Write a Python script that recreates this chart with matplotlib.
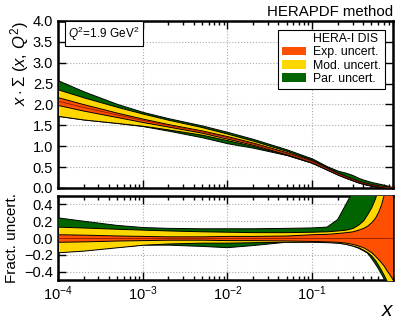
import numpy as np
import matplotlib
matplotlib.use("Agg")
from matplotlib import pyplot as plt
from matplotlib.patches import Patch

plt.rcParams['font.family'] = ['Liberation Sans', 'DejaVu Sans']
plt.rcParams['mathtext.fontset'] = 'custom'
plt.rcParams['mathtext.rm'] = 'Liberation Sans'
plt.rcParams['mathtext.it'] = 'Liberation Sans:italic'

# x nodes and central x*Sigma(x, Q2)
xs = [1e-4, 2e-4, 5e-4, 1e-3, 2e-3, 5e-3, 1e-2, 2e-2, 5e-2, 0.1, 0.15, 0.2,
      0.25, 0.3, 0.35, 0.4, 0.45, 0.5, 0.55, 0.6, 0.65, 0.7, 0.75, 0.8, 0.85, 0.9]
central = [2.08, 1.93, 1.75, 1.62, 1.50, 1.35, 1.21, 1.06, 0.83, 0.63, 0.46, 0.34,
           0.26, 0.20, 0.15, 0.115, 0.09, 0.068, 0.052, 0.04, 0.03, 0.022, 0.016, 0.01, 0.006, 0.003]

# fractional uncertainties (upper / lower) per band
exp_up = [0.045, 0.04, 0.03, 0.025, 0.02, 0.02, 0.025, 0.025, 0.03, 0.045, 0.05, 0.06,
          0.07, 0.08, 0.10, 0.12, 0.15, 0.19, 0.24, 0.31, 0.40, 0.52, 0.70, 0.90, 1.10, 1.30]
exp_lo = [-0.045, -0.04, -0.03, -0.025, -0.02, -0.02, -0.025, -0.025, -0.03, -0.035, -0.04, -0.045,
          -0.055, -0.07, -0.09, -0.11, -0.14, -0.17, -0.21, -0.25, -0.29, -0.33, -0.38, -0.42, -0.46, -0.50]
mod_up = [0.135, 0.125, 0.11, 0.10, 0.09, 0.08, 0.075, 0.07, 0.07, 0.075, 0.08, 0.09,
          0.10, 0.12, 0.16, 0.21, 0.29, 0.37, 0.47, 0.58, 0.70, 0.85, 1.0, 1.2, 1.4, 1.6]
mod_lo = [-0.17, -0.15, -0.11, -0.08, -0.065, -0.055, -0.055, -0.05, -0.045, -0.045, -0.05, -0.055,
          -0.07, -0.09, -0.11, -0.14, -0.17, -0.21, -0.26, -0.32, -0.38, -0.44, -0.50, -0.55, -0.6, -0.65]
par_up = [0.24, 0.20, 0.15, 0.125, 0.115, 0.11, 0.11, 0.11, 0.115, 0.12, 0.13, 0.22,
          0.40, 0.55, 0.62, 0.75, 0.9, 1.1, 1.4, 1.7, 2.1, 2.5, 3.0, 3.5, 4.2, 5.0]
par_lo = [-0.17, -0.15, -0.11, -0.085, -0.085, -0.10, -0.115, -0.09, -0.05, -0.045, -0.05, -0.06,
          -0.075, -0.095, -0.12, -0.15, -0.18, -0.24, -0.30, -0.36, -0.42, -0.48, -0.55, -0.6, -0.65, -0.7]

c_exp = '#ff4f00'
c_mod = '#ffd700'
c_par = '#006400'

x = np.array(xs)
cen = np.array(central)

fig = plt.figure(figsize=(3.99, 3.28), dpi=100)
ax1 = fig.add_axes([0.1454, 0.427, 0.8396, 0.509])
ax2 = fig.add_axes([0.1454, 0.1463, 0.8396, 0.2561])

bands = [(par_lo, par_up, c_par), (mod_lo, mod_up, c_mod), (exp_lo, exp_up, c_exp)]
for lo, up, col in bands:
    lo = np.array(lo)
    up = np.array(up)
    ax1.fill_between(x, cen * (1 + lo), cen * (1 + up), facecolor=col,
                     edgecolor='black', linewidth=0.7, zorder=3)
    ax2.fill_between(x, lo, up, facecolor=col, edgecolor='black', linewidth=0.7, zorder=3)
ax1.plot(x, cen, color='#8b1a00', lw=0.6, zorder=4)
ax2.plot(x, np.zeros_like(x), color='#8b1a00', lw=0.6, zorder=4)

for ax in (ax1, ax2):
    ax.set_xscale('log')
    ax.set_xlim(1e-4, 0.9)
    ax.grid(True, which='major', color='#aaaaaa', linestyle=':', linewidth=0.8, zorder=0)
    for s in ax.spines.values():
        s.set_linewidth(1.8)
    ax.tick_params(which='both', direction='in', top=True, right=True, labelsize=10.5, width=1)
    ax.tick_params(which='major', length=6)
    ax.tick_params(which='minor', length=3)

ax1.set_ylim(0, 4)
ax1.set_yticks(np.arange(0, 4.01, 0.5))
ax1.set_yticklabels(['%.1f' % v for v in np.arange(0, 4.01, 0.5)])
ax1.tick_params(labelbottom=False)
ax1.set_ylabel(r'$x \cdot \Sigma\ (x,\, Q^2)$', fontsize=12, loc='top', labelpad=1)

ax2.set_ylim(-0.5, 0.5)
ax2.set_yticks([-0.4, -0.2, 0.0, 0.2, 0.4])
ax2.set_yticklabels(['\u22120.4', '\u22120.2', '0.0', '0.2', '0.4'])
ax2.set_ylabel('Fract. uncert.', fontsize=11)
ax2.set_xticks([1e-4, 1e-3, 1e-2, 1e-1])

fig.text(0.985, 0.963, 'HERAPDF method', ha='right', va='center', fontsize=10.8)
fig.text(0.972, 0.052, r'$x$', ha='center', va='center', fontsize=15)

ax1.text(0.03, 0.925, r'$Q^2$=1.9 GeV$^2$', transform=ax1.transAxes, fontsize=8.5,
         ha='left', va='center',
         bbox=dict(boxstyle='square,pad=0.3', facecolor='white', edgecolor='black', linewidth=0.8))

handles = [Patch(facecolor='none', edgecolor='none'),
           Patch(facecolor=c_exp), Patch(facecolor=c_mod), Patch(facecolor=c_par)]
labels = ['HERA-I DIS', 'Exp. uncert.', 'Mod. uncert.', 'Par. uncert.']
leg = ax1.legend(handles, labels, loc='upper right', fontsize=8.8, fancybox=False,
                 framealpha=1, edgecolor='black', handlelength=2.0, handleheight=0.7,
                 borderpad=0.3, labelspacing=0.1, handletextpad=0.6,
                 bbox_to_anchor=(0.995, 0.985))
leg.get_frame().set_linewidth(0.8)
leg.set_zorder(10)

fig.savefig('out.png', dpi=100)
